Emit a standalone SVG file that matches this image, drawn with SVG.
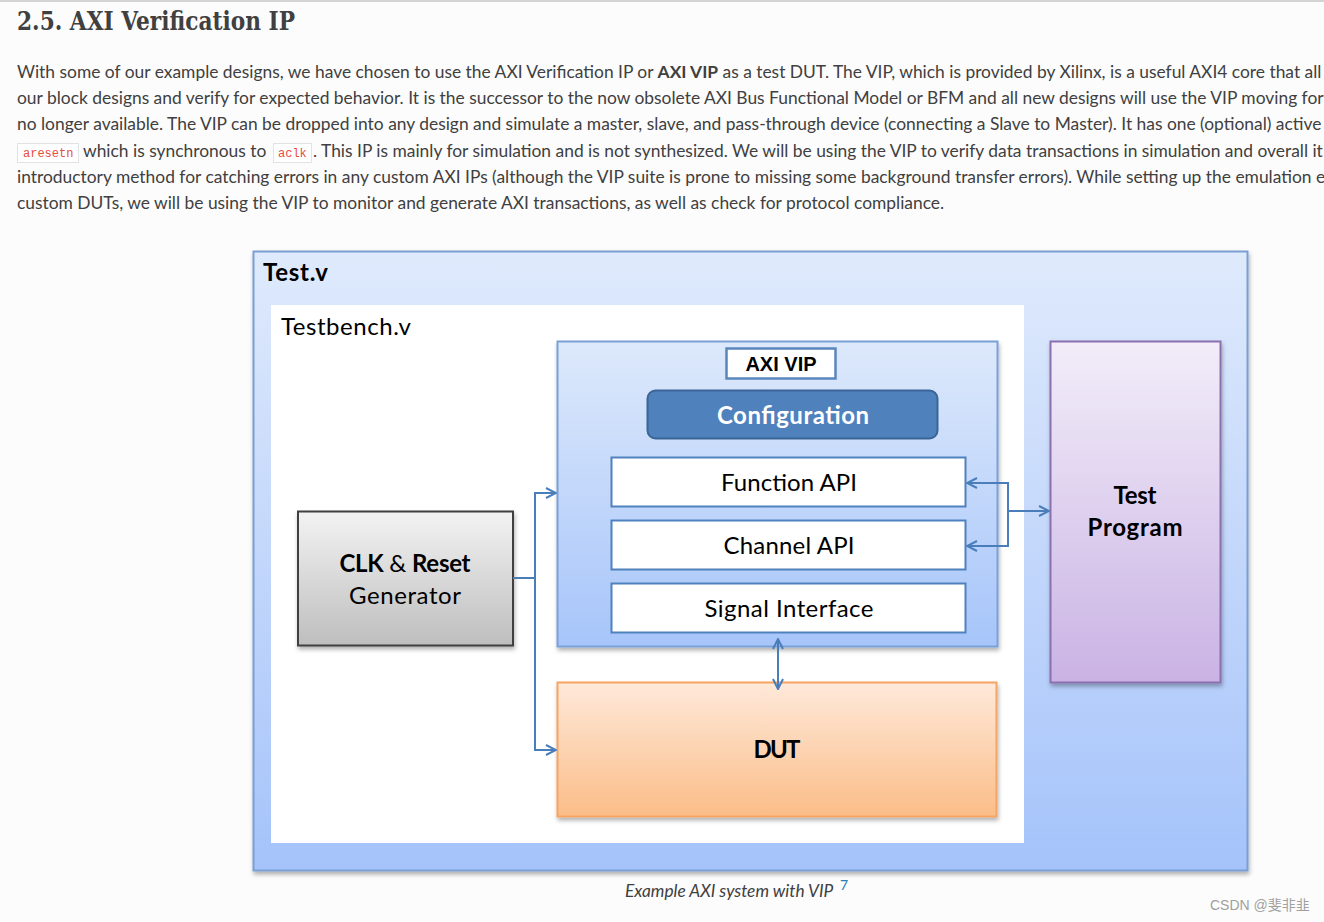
<svg xmlns="http://www.w3.org/2000/svg" width="1324" height="922" viewBox="0 0 1324 922">
<defs>
<style>
.para{font-family:Lato,"Liberation Sans",sans-serif;font-size:17.4px;fill:#404040}
.code{font-family:"Liberation Mono",monospace;font-size:12px;fill:#e74c3c}
.codebox{fill:#ffffff;stroke:#e1e4e5;stroke-width:1}
.lbl{font-family:Lato,"Liberation Sans",sans-serif;font-size:24px;fill:#000000}
.b{font-weight:bold}
.conn{fill:none;stroke:#4a7ebb;stroke-width:2}
.api{fill:#ffffff;stroke:#4f81bd;stroke-width:2}
</style>
<linearGradient id="gBlue" x1="0" y1="0" x2="0" y2="1"><stop offset="0" stop-color="#dfeafc"/><stop offset="1" stop-color="#a5c3fa"/></linearGradient>
<linearGradient id="gVip" x1="0" y1="0" x2="0" y2="1"><stop offset="0" stop-color="#dde9fb"/><stop offset="1" stop-color="#a7c5fa"/></linearGradient>
<linearGradient id="gPurple" x1="0" y1="0" x2="0" y2="1"><stop offset="0" stop-color="#f2edf9"/><stop offset="1" stop-color="#cab3e4"/></linearGradient>
<linearGradient id="gGray" x1="0" y1="0" x2="0" y2="1"><stop offset="0" stop-color="#f3f3f3"/><stop offset="1" stop-color="#bebebe"/></linearGradient>
<linearGradient id="gOrange" x1="0" y1="0" x2="0" y2="1"><stop offset="0" stop-color="#fee9da"/><stop offset="1" stop-color="#fbbd88"/></linearGradient>
<filter id="sh" x="-5%" y="-5%" width="110%" height="115%"><feDropShadow dx="1" dy="3" stdDeviation="2" flood-color="#000" flood-opacity="0.3"/></filter>
<marker id="ah" viewBox="0 0 12 12" refX="11" refY="6" markerWidth="12" markerHeight="12" markerUnits="userSpaceOnUse" orient="auto-start-reverse">
<path d="M1,1 L11,6 L1,11" fill="none" stroke="#4a7ebb" stroke-width="2"/>
</marker>
</defs>
<rect x="0" y="0" width="1324" height="922" fill="#fcfcfc"/>
<rect x="0" y="0" width="1324" height="2" fill="#d4d4d4"/>

<g id="page-text">
<text x="17" y="30" font-family="'DejaVu Serif','Liberation Serif',serif" font-weight="bold" font-size="26" fill="#404040" textLength="278" lengthAdjust="spacingAndGlyphs">2.5. AXI Verification IP</text>
<text class="para" x="17" y="78">With some of our example designs, we have chosen to use the AXI Verification IP or <tspan font-weight="bold">AXI VIP</tspan> as a test DUT. The VIP, which is provided by Xilinx, is a useful AXI4 core that all</text>
<text class="para" x="17" y="104">our block designs and verify for expected behavior. It is the successor to the now obsolete AXI Bus Functional Model or BFM and all new designs will use the VIP moving for</text>
<text class="para" x="17" y="130">no longer available. The VIP can be dropped into any design and simulate a master, slave, and pass-through device (connecting a Slave to Master). It has one (optional) active</text>
<rect class="codebox" x="17.5" y="143.5" width="61" height="19"/>
<text class="code" x="23" y="157">aresetn</text>
<text class="para" x="83" y="157">which is synchronous to</text>
<rect class="codebox" x="273.5" y="143.5" width="38" height="19"/>
<text class="code" x="278" y="157">aclk</text>
<text class="para" x="313" y="157">. This IP is mainly for simulation and is not synthesized. We will be using the VIP to verify data transactions in simulation and overall it</text>
<text class="para" x="17" y="183">introductory method for catching errors in any custom AXI IPs (although the VIP suite is prone to missing some background transfer errors). While setting up the emulation e</text>
<text class="para" x="17" y="209">custom DUTs, we will be using the VIP to monitor and generate AXI transactions, as well as check for protocol compliance.</text>
</g>

<g id="test-v">
<rect x="253.5" y="251.5" width="994" height="619" fill="url(#gBlue)" stroke="#7b9ed2" stroke-width="2" filter="url(#sh)"/>
<text class="lbl b" x="263" y="281" textLength="65">Test.v</text>
</g>
<g id="testbench-v">
<rect x="271" y="305" width="753" height="538" fill="#ffffff"/>
<text class="lbl" x="281" y="335" textLength="130">Testbench.v</text>
</g>

<g id="axi-vip">
<rect x="557.5" y="341.5" width="440" height="305" fill="url(#gVip)" stroke="#7aa0d8" stroke-width="2" filter="url(#sh)"/>
<rect x="726.5" y="348.5" width="109" height="30" fill="#ffffff" stroke="#5b85bd" stroke-width="2.5"/>
<text x="781" y="371" text-anchor="middle" font-family="'Liberation Sans',Arial,sans-serif" font-weight="bold" font-size="20" fill="#000">AXI VIP</text>
</g>
<g id="configuration">
<rect x="647.5" y="390.5" width="290" height="48" rx="8" fill="#4f81bd" stroke="#3a6596" stroke-width="2"/>
<text class="lbl b" x="793" y="424" text-anchor="middle" style="fill:#ffffff" textLength="152">Configuration</text>
</g>
<g id="function-api">
<rect class="api" x="611.5" y="457.5" width="354" height="49"/>
<text class="lbl" x="789" y="491" text-anchor="middle" textLength="136">Function API</text>
</g>
<g id="channel-api">
<rect class="api" x="611.5" y="520.5" width="354" height="49"/>
<text class="lbl" x="789" y="554" text-anchor="middle" textLength="131">Channel API</text>
</g>
<g id="signal-interface">
<rect class="api" x="611.5" y="583.5" width="354" height="49"/>
<text class="lbl" x="789" y="617" text-anchor="middle" textLength="169">Signal Interface</text>
</g>

<g id="test-program">
<rect x="1050.5" y="341.5" width="170" height="341" fill="url(#gPurple)" stroke="#8a70ae" stroke-width="2" filter="url(#sh)"/>
<text class="lbl b" x="1135" y="504" text-anchor="middle" textLength="43">Test</text>
<text class="lbl b" x="1135" y="536" text-anchor="middle" textLength="95">Program</text>
</g>

<g id="clk-reset">
<rect x="298" y="511.5" width="215" height="134" fill="url(#gGray)" stroke="#3f3f3f" stroke-width="2" filter="url(#sh)"/>
<text class="lbl" x="405" y="572" text-anchor="middle" textLength="131"><tspan font-weight="bold">CLK</tspan> &amp; <tspan font-weight="bold">Reset</tspan></text>
<text class="lbl" x="405" y="604" text-anchor="middle" textLength="112">Generator</text>
</g>

<g id="dut">
<rect x="557.5" y="682.5" width="439" height="134" fill="url(#gOrange)" stroke="#f5a462" stroke-width="2" filter="url(#sh)"/>
<text class="lbl b" x="777" y="758" text-anchor="middle" textLength="47">DUT</text>
</g>

<g id="connectors">
<path class="conn" d="M513,578 H535 V493 H556" marker-end="url(#ah)"/>
<path class="conn" d="M535,578 V750 H556" marker-end="url(#ah)"/>
<path class="conn" d="M1008,511 H1049" marker-end="url(#ah)"/>
<path class="conn" d="M1008,511 V483 H967" marker-end="url(#ah)"/>
<path class="conn" d="M1008,511 V546 H967" marker-end="url(#ah)"/>
<path class="conn" d="M778,639 V689" marker-start="url(#ah)" marker-end="url(#ah)"/>
</g>

<g id="caption">
<text x="625" y="897" font-family="Lato,'Liberation Sans',sans-serif" font-style="italic" font-size="17.3" fill="#404040">Example AXI system with VIP</text>
<text x="840" y="890" font-family="Lato,'Liberation Sans',sans-serif" font-size="14" fill="#2980b9">7</text>
</g>
<text x="1210" y="910" font-family="'Liberation Sans','Noto Sans CJK SC',sans-serif" font-size="14" fill="#a0a0a0">CSDN @斐非韭</text>
</svg>
